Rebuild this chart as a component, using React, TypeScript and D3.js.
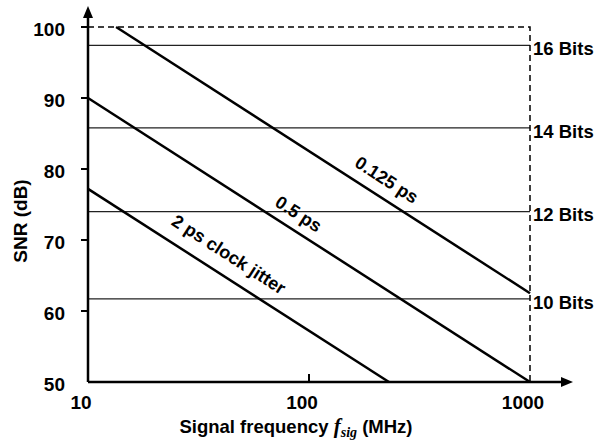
import React from 'react';
import * as d3 from 'd3';

// jitter lines: [freq MHz, SNR dB] endpoints
const jitterNames = ['0.125 ps', '0.5 ps', '2 ps clock jitter'];
const jitterLines: [number, number][][] = [
  [[13.4, 100], [1000, 62.5]],
  [[10, 90], [1000, 50]],
  [[10, 77.2], [230, 50]],
];
// where each label sits (freq, SNR)
const jitterLabelAt: [number, number][] = [[223, 78.3], [89, 73.5], [43, 67.8]];

const bitNames = ['16 Bits', '14 Bits', '12 Bits', '10 Bits'];
const bitSnr = [97.4, 85.8, 74.0, 61.7];

const yTicks = [50, 60, 70, 80, 90, 100];
const xTicks = [10, 100, 1000];

const W = 600;
const H = 440;

const App = () => {
  const x = d3.scaleLog().domain([10, 1000]).range([88, 530]);
  const y = d3.scaleLinear().domain([50, 100]).range([382, 27]);
  const line = d3.line<[number, number]>().x(d => x(d[0])).y(d => y(d[1]));
  const font = '"Liberation Sans", Arial, sans-serif';

  const x0 = x(10), y0 = y(50), x1 = x(1000), yTop = y(100);

  return (
    <svg width={W} height={H} style={{ position: 'absolute', left: 0, top: 0, background: '#fff' }}
      fontFamily={font} fontWeight="bold">
      {/* bit level lines */}
      {bitSnr.map((v, i) => (
        <g key={bitNames[i]}>
          <line x1={x0} x2={x1} y1={y(v)} y2={y(v)} stroke="#222" strokeWidth={1.2} />
          <text x={x1 + 3} y={y(v) + 5} dominantBaseline="middle" fontSize={18.5}>{bitNames[i]}</text>
        </g>
      ))}
      {/* dashed frame */}
      <path d={`M${x0},${yTop}H${x1}V${y0}`} fill="none" stroke="#000" strokeWidth={1.5} strokeDasharray="6,4" />

      {/* jitter lines */}
      {jitterLines.map((pts, i) => {
        const a = Math.atan2(y(pts[1][1]) - y(pts[0][1]), x(pts[1][0]) - x(pts[0][0])) * 180 / Math.PI;
        const [lf, ls] = jitterLabelAt[i];
        return (
          <g key={jitterNames[i]}>
            <path d={line(pts) || ''} fill="none" stroke="#000" strokeWidth={2.5} />
            <text transform={`translate(${x(lf)},${y(ls)}) rotate(${a})`} textAnchor="middle"
              dominantBaseline="middle" fontSize={18}>{jitterNames[i]}</text>
          </g>
        );
      })}

      {/* axes */}
      <line x1={x0} x2={x0} y1={y0} y2={16} stroke="#000" strokeWidth={2.5} />
      <path d={`M${x0},6L${x0 - 5},18L${x0 + 5},18Z`} fill="#000" />
      <line x1={x0} x2={562} y1={y0} y2={y0} stroke="#000" strokeWidth={2.5} />
      <path d={`M573,${y0}L561,${y0 - 5}L561,${y0 + 5}Z`} fill="#000" />

      {yTicks.map(t => (
        <g key={t}>
          {t > 50 && <line x1={x0 - 7} x2={x0} y1={y(t)} y2={y(t)} stroke="#000" strokeWidth={2} />}
          <text x={65} y={y(t) + 4} textAnchor="end" dominantBaseline="middle" fontSize={19}>{t}</text>
        </g>
      ))}
      {xTicks.map(t => (
        <g key={t}>
          {t === 100 && <line x1={x(t)} x2={x(t)} y1={y0 - 8} y2={y0} stroke="#000" strokeWidth={2} />}
          <text x={x(t) - 7} y={409} textAnchor="middle" fontSize={19}>{t}</text>
        </g>
      ))}

      <text transform="translate(27,221) rotate(-90)" textAnchor="middle" fontSize={19}>SNR (dB)</text>
      <text x={296} y={433} textAnchor="middle" fontSize={18.5}>
        Signal frequency{' '}
        <tspan fontFamily='"Liberation Serif", "Times New Roman", serif' fontStyle="italic" fontSize={21}>f</tspan>
        <tspan fontFamily='"Liberation Serif", "Times New Roman", serif' fontStyle="italic" fontSize={14} dy={4}>sig</tspan>
        <tspan dy={-4}> (MHz)</tspan>
      </text>
    </svg>
  );
};

export default App;
